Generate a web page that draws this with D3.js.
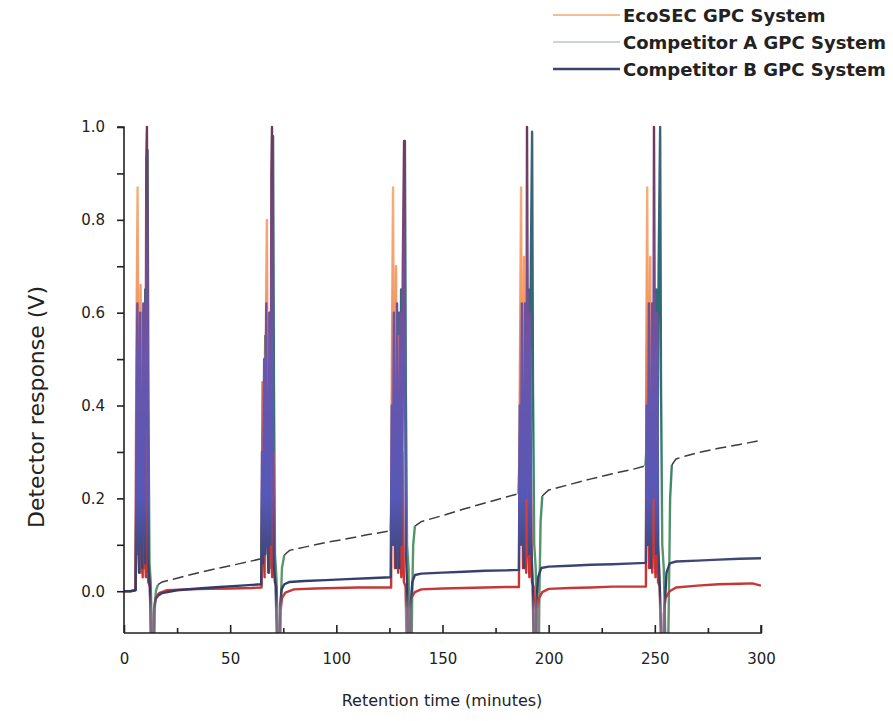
<!DOCTYPE html>
<html>
<head>
<meta charset="utf-8">
<script src="https://cdn.jsdelivr.net/npm/d3@7"></script>
<style>
  body { margin: 0; background: #fff; }
  svg { display: block; }
  text { font-family: "DejaVu Sans", sans-serif; }
</style>
</head>
<body>
<svg id="chart" width="893" height="721"></svg>
<script>
// series names, in legend order
var seriesNames = ["EcoSEC GPC System", "Competitor A GPC System", "Competitor B GPC System"];

// [retention time (min), detector response (V)]
var ecoSecTrace = [
    [0,0.0],[3,0.0],[5.4,0.003],[5.8,0.5],[6.4,0.87],[6.9,0.25],[7.3,0.04],[7.8,0.66],[8.3,0.12],[8.8,0.03],[9.3,0.5],[9.8,0.08],[10.3,0.03],[10.8,0.35],[11.4,0.02],[12.2,0.01],[12.8,-0.15],[13.6,-0.15],[14.0,-0.05],[14.8,-0.015],[16.5,-0.004],[20,0.002],[30,0.004],[40,0.005],[50,0.006],[60,0.007],[64.8,0.008],
    [65.2,0.45],[65.7,0.1],[66.2,0.03],[66.8,0.55],[67.3,0.8],[67.8,0.2],[68.3,0.04],[68.8,0.6],[69.3,0.1],[69.8,0.03],[70.4,0.3],[71,0.02],[71.8,0.01],[72.4,-0.15],[73.2,-0.15],[73.6,-0.05],[74.4,-0.015],[76,-0.003],[80,0.004],[90,0.006],[100,0.007],[110,0.008],[120,0.008],[125.8,0.008],
    [126.2,0.5],[126.7,0.87],[127.2,0.3],[127.6,0.05],[128.1,0.7],[128.6,0.15],[129.1,0.04],[129.6,0.55],[130.1,0.1],[130.6,0.03],[131.2,0.3],[131.8,0.02],[132.6,0.01],[133.2,-0.15],[134.0,-0.15],[134.4,-0.05],[135.2,-0.015],[137,-0.002],[140,0.004],[150,0.006],[160,0.007],[170,0.008],[180,0.009],[186,0.009],
    [186.5,0.5],[187,0.87],[187.5,0.3],[187.9,0.05],[188.4,0.72],[188.9,0.15],[189.4,0.04],[189.9,0.5],[190.4,0.1],[190.9,0.03],[191.5,0.3],[192.1,0.02],[192.9,0.01],[193.5,-0.15],[194.3,-0.15],[194.7,-0.05],[195.5,-0.015],[197,-0.002],[200,0.005],[210,0.007],[220,0.008],[230,0.01],[240,0.01],[245.8,0.01],
    [246.0,0.5],[246.4,0.87],[246.9,0.3],[247.3,0.05],[247.8,0.72],[248.3,0.15],[248.8,0.04],[249.3,0.55],[249.8,0.1],[250.3,0.03],[250.9,0.3],[251.5,0.02],[252.3,0.01],[253.0,-0.15],[253.8,-0.15],[254.2,-0.05],[255,-0.015],[257,0.0],[260,0.008],[270,0.012],[280,0.015],[290,0.016],[296,0.017],[300,0.012]
];

var competitorATrace = [
    [0,0.0],[4,0.0],[5.4,0.002],[6.0,0.3],[6.5,0.08],[7.0,0.55],[7.5,0.1],[8.0,0.04],[8.5,0.6],[9.0,0.12],[9.5,0.05],[10.0,0.65],[10.5,0.2],[11.1,0.95],[11.5,0.4],[12.0,0.06],[12.6,0.02],[13.3,-0.15],[14.2,-0.15],[14.5,-0.04],[15,0.0],[16,0.014],[18,0.02],[25,0.028],[35,0.04],[45,0.05],[55,0.06],[64.6,0.07],
    [65.4,0.35],[65.9,0.08],[66.5,0.55],[67,0.1],[67.6,0.6],[68.1,0.12],[68.7,0.05],[69.2,0.6],[69.7,0.2],[70.2,0.98],[70.6,0.45],[71.1,0.08],[71.8,0.03],[72.6,-0.15],[73.5,-0.15],[73.8,-0.03],[74.4,0.05],[75.5,0.078],[78,0.088],[85,0.095],[95,0.105],[105,0.113],[115,0.122],[125.6,0.13],
    [126.6,0.3],[127.1,0.1],[127.7,0.58],[128.2,0.12],[128.8,0.05],[129.4,0.6],[129.9,0.15],[130.5,0.65],[131.0,0.18],[131.6,0.7],[132.3,0.97],[132.7,0.45],[133.3,0.1],[134.0,0.05],[134.6,-0.15],[135.4,-0.15],[135.7,-0.02],[136.2,0.1],[137,0.14],[140,0.15],[150,0.163],[160,0.177],[170,0.19],[180,0.203],[185.8,0.21],
    [186.6,0.35],[187.1,0.12],[187.7,0.6],[188.2,0.12],[188.8,0.05],[189.4,0.62],[189.9,0.2],[190.5,0.65],[191.0,0.18],[191.6,0.7],[192.2,0.99],[192.6,0.45],[193.2,0.1],[193.9,0.05],[194.5,-0.15],[195.3,-0.15],[195.6,-0.02],[196.2,0.15],[197,0.205],[200,0.218],[210,0.23],[220,0.242],[230,0.253],[240,0.263],[245.6,0.27],
    [246.6,0.35],[247.1,0.12],[247.7,0.6],[248.2,0.12],[248.8,0.05],[249.4,0.62],[249.9,0.2],[250.6,0.65],[251.1,0.18],[251.8,0.7],[252.5,1.0],[252.9,0.45],[253.5,0.1],[254.2,0.05],[255.2,-0.15],[256.2,-0.15],[256.6,-0.02],[257.2,0.2],[258,0.272],[260,0.285],[265,0.292],[270,0.298],[280,0.308],[290,0.316],[300,0.325]
];

var competitorBTrace = [
    [0,0.0],[3,0.0],[5.5,0.002],[5.9,0.35],[6.3,0.62],[6.7,0.1],[7.1,0.04],[7.6,0.6],[8.1,0.15],[8.6,0.05],[9.1,0.62],[9.6,0.2],[10.0,0.06],[10.5,0.93],[10.8,1.0],[11.2,0.5],[11.6,0.05],[12.2,0.01],[12.9,-0.15],[13.7,-0.15],[14.1,-0.04],[14.8,-0.018],[16,-0.01],[18,-0.004],[25,0.002],[35,0.006],[45,0.009],[55,0.012],[64.6,0.015],
    [65,0.3],[65.5,0.06],[66,0.5],[66.5,0.08],[67,0.62],[67.5,0.12],[68,0.04],[68.5,0.6],[69,0.1],[69.4,0.9],[69.7,1.0],[70.1,0.4],[70.6,0.05],[71.4,0.015],[72.2,-0.15],[73.1,-0.15],[73.5,-0.03],[74.3,0.005],[75.5,0.015],[78,0.02],[85,0.022],[95,0.024],[105,0.026],[115,0.028],[125.6,0.03],
    [126.1,0.4],[126.6,0.1],[127.1,0.6],[127.6,0.12],[128.1,0.05],[128.6,0.62],[129.1,0.15],[129.6,0.05],[130.1,0.6],[130.6,0.1],[131.3,0.7],[131.9,0.97],[132.3,0.5],[132.8,0.08],[133.3,0.02],[133.8,-0.15],[134.6,-0.15],[135.0,-0.03],[135.8,0.02],[137,0.035],[140,0.038],[150,0.04],[160,0.042],[170,0.044],[180,0.045],[186,0.046],
    [186.4,0.4],[186.9,0.1],[187.4,0.62],[187.9,0.12],[188.4,0.05],[188.9,0.62],[189.4,0.2],[189.8,1.0],[190.3,0.4],[190.8,0.08],[191.3,0.6],[191.8,0.1],[192.4,0.03],[193.0,-0.15],[193.8,-0.15],[194.2,-0.03],[195,0.03],[196.5,0.05],[200,0.053],[210,0.055],[220,0.057],[230,0.058],[240,0.06],[245.8,0.061],
    [246.2,0.4],[246.7,0.1],[247.2,0.62],[247.7,0.12],[248.2,0.05],[248.7,0.62],[249.2,0.2],[249.6,1.0],[250.1,0.4],[250.6,0.08],[251.1,0.6],[251.6,0.1],[252.2,0.03],[253.4,-0.15],[254.3,-0.15],[254.7,-0.03],[255.5,0.04],[257,0.06],[260,0.064],[270,0.066],[280,0.068],[290,0.07],[300,0.071]
];

// injection windows (min) - Competitor A is drawn solid inside these, dashed outside
var peakWindows = [[5.4,16],[64.6,75.5],[125.6,137],[185.8,197],[245.6,258]];

var xMajorTicks = [0, 50, 100, 150, 200, 250, 300];
var xMinorTicks = [25, 75, 125, 175, 225, 275];
var yMajorTicks = [0.0, 0.2, 0.4, 0.6, 0.8, 1.0];
var yMinorTicks = [0.1, 0.3, 0.5, 0.7, 0.9];

var svg = d3.select("#chart");

var x = d3.scaleLinear().domain([0, 300]).range([124, 761]);
var y = d3.scaleLinear().domain([-0.09, 1.0]).range([633, 127]);

var defs = svg.append("defs");
defs.append("clipPath").attr("id", "plotClip")
    .append("rect")
    .attr("x", x(0)).attr("y", y(1.0) - 3)
    .attr("width", x(300) - x(0)).attr("height", y(-0.09) - y(1.0) + 3);

// vertical colour ramps for the peaks (value -> colour)
function addGradient(id, stops) {
    var g = defs.append("linearGradient")
        .attr("id", id)
        .attr("gradientUnits", "userSpaceOnUse")
        .attr("x1", 0).attr("x2", 0)
        .attr("y1", y(1.0)).attr("y2", y(-0.09));
    g.selectAll("stop").data(stops).enter().append("stop")
        .attr("offset", function (d) { return (y(d[0]) - y(1.0)) / (y(-0.09) - y(1.0)); })
        .attr("stop-color", function (d) { return d[1]; });
}
addGradient("gradEco", [[1.0,"#f7b98a"],[0.62,"#f39a64"],[0.45,"#ec7a52"],[0.25,"#dc4a3c"],[0.05,"#cd3030"],[-0.02,"#c43b3b"],[-0.04,"#9c8290"],[-0.09,"#9c8290"]]);
addGradient("gradB", [[1.0,"#6a3a58"],[0.72,"#7a4a84"],[0.5,"#6a56aa"],[0.2,"#5658b6"],[0.07,"#3e4778"],[0.0,"#2f3b66"],[-0.04,"#7c6a80"],[-0.09,"#7c6a80"]]);
addGradient("gradA", [[1.0,"#3d6378"],[0.6,"#2e6a76"],[0.35,"#2b7a6c"],[0.15,"#4e9468"],[0.0,"#5f9a6c"],[-0.09,"#6a8a74"]]);

var line = d3.line()
    .x(function (d) { return x(d[0]); })
    .y(function (d) { return y(d[1]); });

function inWindow(t) {
    return peakWindows.some(function (w) { return t >= w[0] && t <= w[1]; });
}
function strictlyInside(t) {
    return peakWindows.some(function (w) { return t > w[0] && t < w[1]; });
}

var plot = svg.append("g").attr("clip-path", "url(#plotClip)");

// Competitor A: dashed drifting baseline, solid peaks
plot.append("path")
    .datum(competitorATrace)
    .attr("fill", "none")
    .attr("stroke", "#3c3c3c")
    .attr("stroke-width", 1.5)
    .attr("stroke-dasharray", "11,5")
    .attr("d", line.defined(function (d) { return !strictlyInside(d[0]); }));
plot.append("path")
    .datum(competitorATrace)
    .attr("fill", "none")
    .attr("stroke", "url(#gradA)")
    .attr("stroke-width", 2.4)
    .attr("stroke-linejoin", "round")
    .attr("d", line.defined(function (d) { return inWindow(d[0]); }));

line.defined(function () { return true; });

plot.append("path")
    .datum(ecoSecTrace)
    .attr("fill", "none")
    .attr("stroke", "url(#gradEco)")
    .attr("stroke-width", 2.4)
    .attr("stroke-linejoin", "round")
    .attr("d", line);

plot.append("path")
    .datum(competitorBTrace)
    .attr("fill", "none")
    .attr("stroke", "url(#gradB)")
    .attr("stroke-width", 2.4)
    .attr("stroke-linejoin", "round")
    .attr("d", line);

// axes
var yAxis = svg.append("g")
    .attr("transform", "translate(" + x(0) + ",0)")
    .call(d3.axisLeft(y).tickValues(yMajorTicks).tickFormat(d3.format(".1f")).tickSize(7).tickPadding(12));
svg.append("g")
    .attr("transform", "translate(" + x(0) + ",0)")
    .call(d3.axisLeft(y).tickValues(yMinorTicks).tickFormat("").tickSize(7))
    .select(".domain").remove();

var xAxis = svg.append("g")
    .attr("transform", "translate(0," + y(-0.09) + ")")
    .call(d3.axisBottom(x).tickValues(xMajorTicks).tickSize(-8).tickPadding(20));
svg.append("g")
    .attr("transform", "translate(0," + y(-0.09) + ")")
    .call(d3.axisBottom(x).tickValues(xMinorTicks).tickFormat("").tickSize(-5))
    .select(".domain").remove();

svg.selectAll(".domain").attr("stroke", "#222").attr("stroke-width", 1.6);
svg.selectAll(".tick line").attr("stroke", "#222").attr("stroke-width", 1.6);
svg.selectAll(".tick text").attr("fill", "#222").attr("font-family", null).style("font-size", "15px");
yAxis.select(".domain").attr("d", "M-7," + y(1.0) + "H0V" + y(-0.09));
xAxis.select(".domain").attr("d", "M" + x(0) + ",0H" + x(300) + "V-8");

// axis titles
svg.append("text")
    .attr("x", 442).attr("y", 706)
    .attr("text-anchor", "middle")
    .style("font-size", "16px").attr("fill", "#222")
    .text("Retention time (minutes)");
svg.append("text")
    .attr("transform", "translate(44,407) rotate(-90)")
    .attr("text-anchor", "middle")
    .style("font-size", "22px").attr("fill", "#222")
    .text("Detector response (V)");

// legend
var legendColors = ["#f0a872", "#b9c9c0", "#3a4470"];
var legendWidths = [1.6, 1.6, 2.6];
var legend = svg.append("g");
seriesNames.forEach(function (name, i) {
    var ly = 15 + i * 27;
    legend.append("line")
        .attr("x1", 553).attr("x2", 620).attr("y1", ly).attr("y2", ly)
        .attr("stroke", legendColors[i]).attr("stroke-width", legendWidths[i]);
    legend.append("text")
        .attr("x", 623).attr("y", ly + 7)
        .style("font-size", "18px").style("font-weight", "bold")
        .attr("fill", "#222")
        .text(name);
});
// keep the longest entry inside the page
var maxLen = d3.max(legend.selectAll("text").nodes(), function (n) { return n.getComputedTextLength(); });
if (maxLen > 266) {
    legend.selectAll("text").style("font-size", (18 * 266 / maxLen).toFixed(1) + "px");
}
</script>
</body>
</html>
